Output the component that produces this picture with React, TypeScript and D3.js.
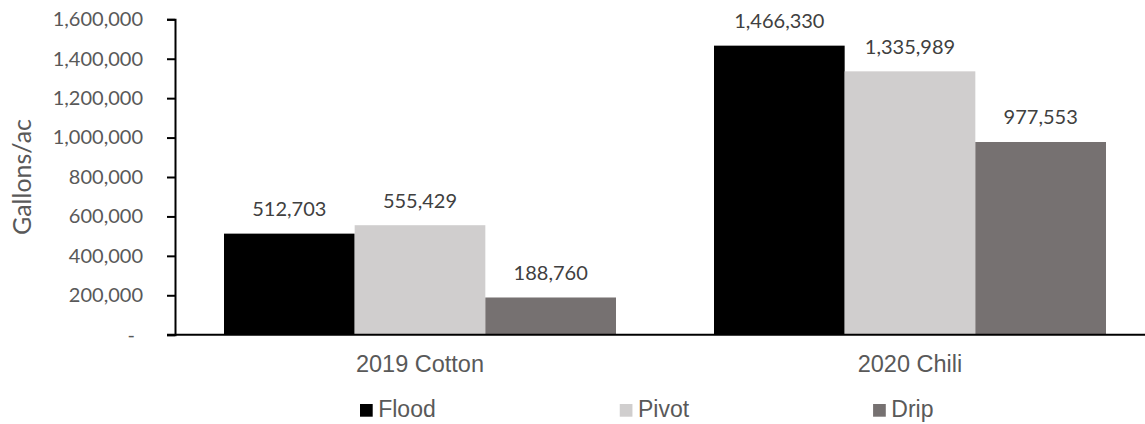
import React, { useEffect, useRef } from "react";
import * as d3 from "d3";

const categories = ["2019 Cotton", "2020 Chili"];
const seriesNames = ["Flood", "Pivot", "Drip"];
const flood = [512703, 1466330];
const pivot = [555429, 1335989];
const drip = [188760, 977553];
const seriesColors = ["#000000", "#D0CECE", "#767171"];
const yTicks = [0, 200000, 400000, 600000, 800000, 1000000, 1200000, 1400000, 1600000];
const yTitle = "Gallons/ac";

const W = 1145;
const H = 424;

export default function App() {
  const ref = useRef<SVGSVGElement>(null);

  useEffect(() => {
    const svg = d3.select(ref.current);
    svg.selectAll("*").remove();

    const values = [flood, pivot, drip];
    const plotLeft = 175;
    const plotRight = 1155;
    const plotTop = 19.3;
    const plotBottom = 334.7;

    const y = d3.scaleLinear().domain([0, 1600000]).range([plotBottom, plotTop]);
    const x0 = d3.scaleBand<string>().domain(categories).range([plotLeft, plotRight]).paddingInner(0.2).paddingOuter(0.1);
    const x1 = d3.scaleBand<string>().domain(seriesNames).range([0, x0.bandwidth()]).padding(0);
    const fmt = d3.format(",");

    const numFont = "Lato, 'Open Sans', sans-serif";
    const arial = "'Liberation Sans', Arial, sans-serif";

    // bars
    const g = svg.append("g");
    categories.forEach((cat, ci) => {
      seriesNames.forEach((s, si) => {
        const v = values[si][ci];
        const bx = (x0(cat) as number) + (x1(s) as number);
        g.append("rect")
          .attr("x", bx)
          .attr("y", y(v))
          .attr("width", x1.bandwidth())
          .attr("height", y(0) - y(v))
          .attr("fill", seriesColors[si]);
        g.append("text")
          .attr("x", bx + x1.bandwidth() / 2)
          .attr("y", y(v) - 17.5)
          .attr("text-anchor", "middle")
          .attr("font-family", numFont)
          .attr("font-size", 20)
          .attr("fill", "#404040")
          .text(fmt(v));
      });
    });

    // y axis
    const yAxis = d3
      .axisLeft(y)
      .tickValues(yTicks)
      .tickSize(8)
      .tickPadding(24)
      .tickFormat((d) => ((d as number) === 0 ? "-" : fmt(d as number)));
    const ya = svg.append("g").attr("transform", `translate(${plotLeft},0)`).call(yAxis);
    ya.select(".domain").attr("stroke", "#000").attr("stroke-width", 2);
    ya.selectAll(".tick line").attr("stroke", "#000").attr("stroke-width", 2);
    ya.selectAll(".tick text")
      .attr("font-family", numFont)
      .attr("font-size", 20)
      .attr("fill", "#595959")
      .attr("dx", (d) => ((d as number) === 0 ? -8 : 0));

    // x axis baseline
    svg
      .append("line")
      .attr("x1", plotLeft - 8)
      .attr("x2", W)
      .attr("y1", y(0))
      .attr("y2", y(0))
      .attr("stroke", "#000")
      .attr("stroke-width", 2);

    // category labels
    categories.forEach((cat) => {
      svg
        .append("text")
        .attr("x", (x0(cat) as number) + x0.bandwidth() / 2)
        .attr("y", 371.7)
        .attr("text-anchor", "middle")
        .attr("font-family", arial)
        .attr("font-size", 23.5)
        .attr("fill", "#595959")
        .text(cat);
    });

    // y title
    svg
      .append("text")
      .attr("transform", `translate(31,${(plotTop + plotBottom) / 2}) rotate(-90)`)
      .attr("text-anchor", "middle")
      .attr("font-family", numFont)
      .attr("font-size", 25)
      .attr("fill", "#595959")
      .text(yTitle);

    // legend
    let lx = 360;
    const sq = 12.7;
    seriesNames.forEach((s, si) => {
      svg
        .append("rect")
        .attr("x", lx)
        .attr("y", 404)
        .attr("width", sq)
        .attr("height", sq)
        .attr("fill", seriesColors[si]);
      const t = svg
        .append("text")
        .attr("x", lx + sq + 5.5)
        .attr("y", 417.3)
        .attr("font-family", arial)
        .attr("font-size", 23)
        .attr("fill", "#595959")
        .text(s);
      const tw = (t.node() as SVGTextElement).getComputedTextLength();
      lx += sq + 5.5 + tw + 184;
    });
  }, []);

  return (
    <svg
      ref={ref}
      width={W}
      height={H}
      style={{ position: "absolute", left: 0, top: 0, background: "#fff" }}
    />
  );
}
